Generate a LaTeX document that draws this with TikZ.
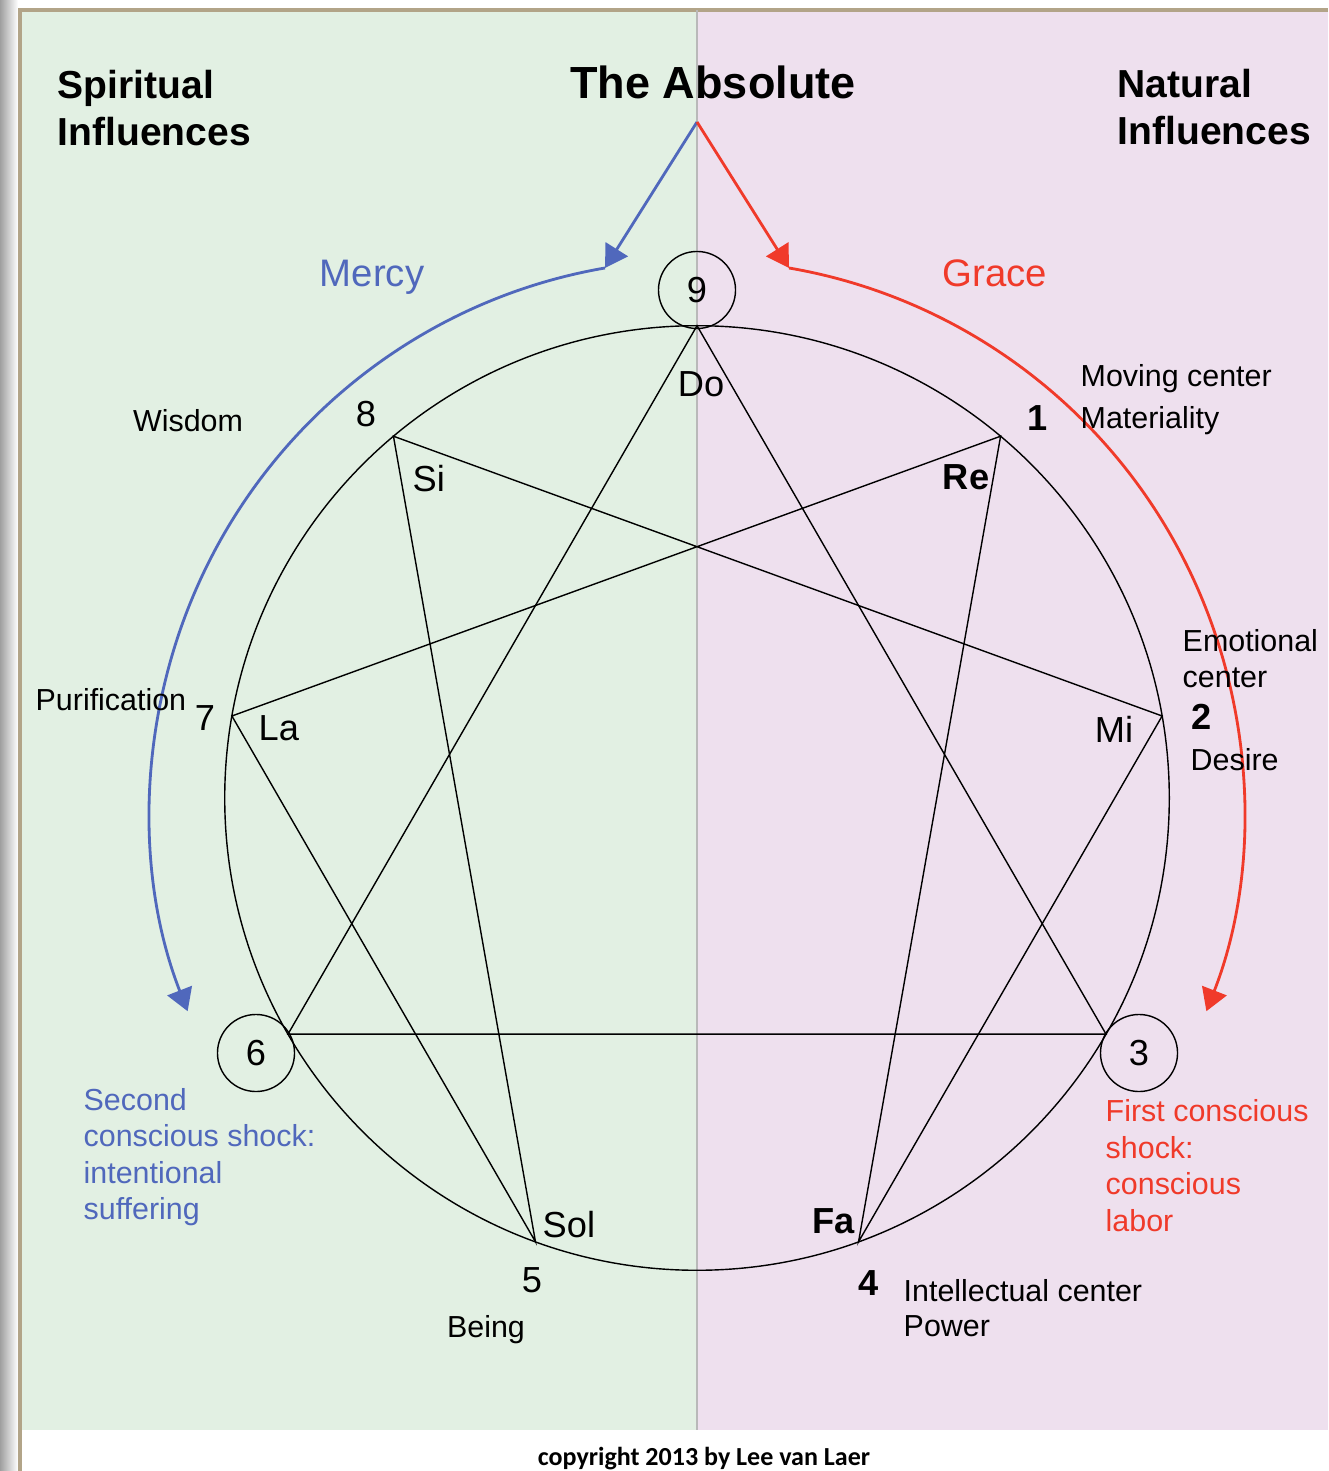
\documentclass[tikz,border=0pt]{standalone}
\usepackage{fontspec}
\setmainfont{Liberation Sans}
\newfontfamily\copyfont{Carlito}
\usetikzlibrary{arrows.meta,calc}

\definecolor{bggreen}{RGB}{226,240,227}
\definecolor{bgpink}{RGB}{238,224,238}
\definecolor{mercyblue}{RGB}{80,104,188}
\definecolor{gracered}{RGB}{240,58,42}
\definecolor{frametan}{RGB}{178,164,136}

\begin{document}
\begin{tikzpicture}[x=0.01cm, y=-0.01cm,
		lbl/.style={inner sep=0pt, font=\fontsize{8.65}{10.3}\selectfont},
		note/.style={lbl, align=left, anchor=north west},
		solfa/.style={inner sep=0pt, font=\fontsize{10.3}{12}\selectfont},
		solfab/.style={inner sep=0pt, font=\fontsize{10.3}{12}\selectfont\bfseries},
		ring/.style={circle, draw, line width=0.4pt, minimum size=0.77cm, inner sep=0pt, font=\fontsize{10.3}{12}\selectfont},
		heading/.style={inner sep=0pt, align=left, anchor=north west, font=\fontsize{11.1}{13.1}\selectfont\bfseries},
		mercy/.style={draw=mercyblue, line width=0.8pt},
		grace/.style={draw=gracered, line width=0.8pt},
		arrowhd/.style={-{Triangle[length=6.3pt,width=7.4pt]}}]
	\useasboundingbox (0,0) rectangle (1328,1471);
	% page and the two halves
	\fill[white] (0,0) rectangle (1328,1471);
	\shade[left color=gray!75, right color=white] (0,0) rectangle (18,1471);
	\fill[bggreen] (20,10) rectangle (697,1430);
	\fill[bgpink] (697,10) rectangle (1328,1430);
	\draw[frametan, line width=1pt] (20,1471) -- (20,10) -- (1328,10);
	\draw[gray!55, line width=0.4pt] (697,10) -- (697,1430);

	% enneagram
	\coordinate (ctr) at (697,798);
	\foreach \n/\a in {9/90,1/50,2/10,3/-30,4/-70,5/-110,6/-150,7/170,8/130}
		\coordinate (p\n) at ($(ctr)+(\a:4.72cm)$);
	\draw[line width=0.4pt] (ctr) circle[radius=4.72cm];
	\draw[line width=0.4pt] (p9) -- (p3) -- (p6) -- cycle;
	\draw[line width=0.4pt] (p1) -- (p4) -- (p2) -- (p8) -- (p5) -- (p7) -- cycle;
	\node[ring] (c9) at (697,290) {9};
	\node[ring] (c6) at (256,1053) {6};
	\node[ring] (c3) at (1139,1053) {3};

	% mercy and grace
	\coordinate (apex) at (697,122);
	\coordinate (ms) at (605,268);
	\coordinate (gs) at (789,268);
	\draw[mercy, arrowhd] (apex) -- (ms);
	\draw[grace, arrowhd] (apex) -- (gs);
	\draw[mercy, arrowhd] (ms) arc[start angle=99.7, end angle=201.4, x radius=5.47cm, y radius=5.5cm];
	\draw[grace, arrowhd] (gs) arc[start angle=80.3, end angle=-21.4, x radius=5.47cm, y radius=5.5cm];

	% titles
	\node[heading] (spirit) at (57,70) {Spiritual\\Influences};
	\node[heading] (natural) at (1117,69) {Natural\\Influences};
	\node[inner sep=0pt, anchor=base, font=\fontsize{12.8}{15}\selectfont\bfseries] (absolute) at (713,99) {The Absolute};
	\node[lbl, anchor=base, text=mercyblue, font=\fontsize{10.9}{13}\selectfont] (mercytxt) at (372,287) {Mercy};
	\node[lbl, anchor=base, text=gracered, font=\fontsize{10.9}{13}\selectfont] (gracetxt) at (995,287) {Grace};

	% notes of the octave
	\node[solfa, anchor=base] (do) at (701,397) {Do};
	\node[solfab, anchor=base] (re) at (966,490) {Re};
	\node[solfa, anchor=base] (mi) at (1114,742) {Mi};
	\node[solfab, anchor=base east] (fa) at (855,1233) {Fa};
	\node[solfa, anchor=base west] (sol) at (542,1237) {Sol};
	\node[solfa, anchor=base west] (la) at (258,740) {La};
	\node[solfa, anchor=base west] (si) at (412,492) {Si};

	% numbers
	\node[solfab, anchor=base] (n1) at (1038,431) {1};
	\node[solfab, anchor=base] (n2) at (1202,729) {2};
	\node[solfab, anchor=base] (n4) at (869,1295) {4};
	\node[solfa, anchor=base] (n5) at (532,1292) {5};
	\node[solfa, anchor=base] (n7) at (205,730) {7};
	\node[solfa, anchor=base] (n8) at (366,427) {8};

	% centers and qualities
	\node[note, font=\fontsize{8.65}{11.8}\selectfont] (moving) at (1080,364) {Moving center\\Materiality};
	\node[note] (emotional) at (1182,629) {Emotional\\center};
	\node[lbl, anchor=base west] (desire) at (1190,771) {Desire};
	\node[note, font=\fontsize{8.65}{10}\selectfont] (intell) at (903,1279) {Intellectual center\\Power};
	\node[lbl, anchor=base] (being) at (486,1337) {Being};
	\node[lbl, anchor=base west] (purif) at (35,710) {Purification};
	\node[lbl, anchor=base] (wisdom) at (188,432) {Wisdom};

	% shocks
	\node[note, text=mercyblue] (second) at (83,1088) {Second\\conscious shock:\\intentional\\suffering};
	\node[note, text=gracered, font=\fontsize{8.65}{10.4}\selectfont] (first) at (1105,1099) {First conscious\\shock:\\conscious\\labor};

	\node[inner sep=0pt, anchor=base, font=\copyfont\fontsize{7.4}{9}\selectfont\bfseries] (copy) at (704,1465) {copyright 2013 by Lee van Laer};
\end{tikzpicture}
\end{document}
